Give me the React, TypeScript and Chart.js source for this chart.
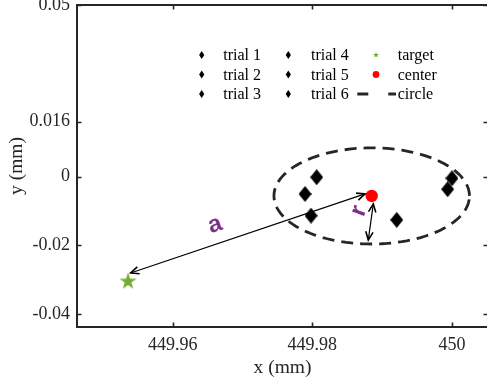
import React, { useEffect, useRef } from "react";
import { Chart, registerables } from "chart.js";
Chart.register(...registerables);

// ---- data ----
const X_TICKS = [449.96, 449.98, 450];
const Y_TICKS = [-0.04, -0.02, 0, 0.016, 0.05];
const X_RANGE = [449.946294, 450.005156];
const Y_RANGE = [-0.0438, 0.05];

const TRIAL_LABELS = ["trial 1", "trial 2", "trial 3", "trial 4", "trial 5", "trial 6"];
const TRIAL_X = [449.98062, 449.97895, 449.97981, 449.99208, 450.0, 449.99938];
const TRIAL_Y = [-0.00017, -0.00504, -0.01136, -0.01261, -0.00047, -0.00367];
const TARGET_X = [449.9536];
const TARGET_Y = [-0.03053];
const CENTER_X = [449.9885];
const CENTER_Y = [-0.00562];
const CIRCLE_RADIUS = 0.014;
const CIRCLE_STEPS = 120;
const ARROW_A_X = [449.98754, 449.95398];
const ARROW_A_Y = [-0.00504, -0.02806];
const ARROW_R_X = [449.98873, 449.98801];
const ARROW_R_Y = [-0.00795, -0.01844];
const NOTE_TEXT = ["a", "r"];
const NOTE_X = [449.96606, 449.98668];
const NOTE_Y = [-0.01407, -0.01];
const NOTE_ANGLE = [-18, -70];

const LEGEND_LABELS = [
  ["trial 1", "trial 2", "trial 3"],
  ["trial 4", "trial 5", "trial 6"],
  ["target", "center", "circle"],
];

const AXIS_COLOR = "#262626";
const PURPLE = "#7E2F8E";
const GREEN = "#77AC30";
const RED = "#FF0000";
const SERIF = '"Liberation Serif", "Times New Roman", serif';

function makeDiamond(w: number, h: number) {
  const c = document.createElement("canvas");
  c.width = Math.ceil(w);
  c.height = Math.ceil(h);
  const g = c.getContext("2d")!;
  g.fillStyle = "#000";
  g.beginPath();
  g.moveTo(c.width / 2, 0);
  g.lineTo(c.width, c.height / 2);
  g.lineTo(c.width / 2, c.height);
  g.lineTo(0, c.height / 2);
  g.closePath();
  g.fill();
  return c;
}

function starPath(g: CanvasRenderingContext2D, cx: number, cy: number, R: number) {
  const r = R * 0.382;
  g.beginPath();
  for (let i = 0; i < 10; i++) {
    const rad = i % 2 === 0 ? R : r;
    const a = -Math.PI / 2 + (i * Math.PI) / 5;
    const px = cx + rad * Math.cos(a);
    const py = cy + rad * Math.sin(a);
    if (i === 0) g.moveTo(px, py);
    else g.lineTo(px, py);
  }
  g.closePath();
}

function makeStar(R: number) {
  const c = document.createElement("canvas");
  const s = Math.ceil(R * 2 + 2);
  c.width = s;
  c.height = s;
  const g = c.getContext("2d")!;
  g.fillStyle = GREEN;
  starPath(g, s / 2, s / 2, R);
  g.fill();
  return c;
}

const overlay = {
  id: "overlay",
  afterDatasetsDraw(chart: any) {
    const { ctx, chartArea: ca, scales } = chart;
    const xs = scales.x;
    const ys = scales.y;
    const px = (v: number) => xs.getPixelForValue(v);
    const py = (v: number) => ys.getPixelForValue(v);
    ctx.save();

    // arrows
    const head = (tx: number, ty: number, fx: number, fy: number) => {
      const ang = Math.atan2(ty - fy, tx - fx);
      const L = 9;
      const a = 0.42;
      ctx.beginPath();
      ctx.moveTo(tx - L * Math.cos(ang - a), ty - L * Math.sin(ang - a));
      ctx.lineTo(tx, ty);
      ctx.lineTo(tx - L * Math.cos(ang + a), ty - L * Math.sin(ang + a));
      ctx.stroke();
    };
    const arrow = (xv: number[], yv: number[]) => {
      const x1 = px(xv[0]), y1 = py(yv[0]), x2 = px(xv[1]), y2 = py(yv[1]);
      ctx.strokeStyle = "#000";
      ctx.lineWidth = 1.2;
      ctx.beginPath();
      ctx.moveTo(x1, y1);
      ctx.lineTo(x2, y2);
      ctx.stroke();
      ctx.lineWidth = 1.6;
      head(x1, y1, x2, y2);
      head(x2, y2, x1, y1);
    };
    arrow(ARROW_A_X, ARROW_A_Y);
    arrow(ARROW_R_X, ARROW_R_Y);

    // notes
    ctx.fillStyle = PURPLE;
    ctx.font = 'bold 24px "Liberation Sans", Arial, sans-serif';
    ctx.textAlign = "center";
    ctx.textBaseline = "middle";
    NOTE_TEXT.forEach((t, i) => {
      ctx.save();
      ctx.translate(px(NOTE_X[i]), py(NOTE_Y[i]));
      ctx.rotate((NOTE_ANGLE[i] * Math.PI) / 180);
      ctx.fillText(t, 0, 0);
      ctx.restore();
    });

    // legend
    const colMarker = [201.7, 288.3, 376];
    const colText = [223.3, 311, 397.7];
    const rowY = [55, 74.5, 94];
    ctx.font = "16px " + SERIF;
    ctx.textAlign = "left";
    ctx.textBaseline = "middle";
    LEGEND_LABELS.forEach((col, ci) => {
      col.forEach((label, ri) => {
        const mx = colMarker[ci];
        const my = rowY[ri];
        if (ci < 2) {
          ctx.fillStyle = "#000";
          ctx.beginPath();
          ctx.moveTo(mx, my - 4);
          ctx.lineTo(mx + 2.6, my);
          ctx.lineTo(mx, my + 4);
          ctx.lineTo(mx - 2.6, my);
          ctx.closePath();
          ctx.fill();
        } else if (ri === 0) {
          ctx.fillStyle = GREEN;
          starPath(ctx, mx, my, 3.2);
          ctx.fill();
        } else if (ri === 1) {
          ctx.fillStyle = RED;
          ctx.beginPath();
          ctx.arc(mx, my, 3.4, 0, Math.PI * 2);
          ctx.fill();
        } else {
          ctx.strokeStyle = AXIS_COLOR;
          ctx.lineWidth = 3;
          ctx.beginPath();
          ctx.moveTo(357.3, my);
          ctx.lineTo(368.3, my);
          ctx.moveTo(388.3, my);
          ctx.lineTo(396, my);
          ctx.stroke();
        }
        ctx.fillStyle = "#000";
        ctx.fillText(label, colText[ci], my + 1);
      });
    });

    // box + inward ticks
    ctx.strokeStyle = AXIS_COLOR;
    ctx.lineWidth = 2;
    ctx.strokeRect(ca.left, ca.top, ca.right - ca.left, ca.bottom - ca.top);
    ctx.lineWidth = 1.6;
    ctx.beginPath();
    const T = 4.5;
    X_TICKS.forEach((v) => {
      const x = Math.round(px(v)) + 0.5;
      ctx.moveTo(x, ca.bottom);
      ctx.lineTo(x, ca.bottom - T);
      ctx.moveTo(x, ca.top);
      ctx.lineTo(x, ca.top + T);
    });
    Y_TICKS.forEach((v) => {
      const y = Math.round(py(v)) + 0.5;
      ctx.moveTo(ca.left, y);
      ctx.lineTo(ca.left + T, y);
      ctx.moveTo(ca.right, y);
      ctx.lineTo(ca.right - T, y);
    });
    ctx.stroke();
    ctx.restore();
  },
};

export default function App() {
  const ref = useRef<HTMLCanvasElement>(null);
  useEffect(() => {
    const canvas = ref.current!;
    const diamondImg = makeDiamond(12.5, 15.5);
    const starImg = makeStar(9);

    const circlePts: { x: number; y: number }[] = [];
    for (let i = 0; i <= CIRCLE_STEPS; i++) {
      const t = (i / CIRCLE_STEPS) * Math.PI * 2;
      circlePts.push({
        x: CENTER_X[0] + CIRCLE_RADIUS * Math.cos(t),
        y: CENTER_Y[0] + CIRCLE_RADIUS * Math.sin(t),
      });
    }

    const trialSets = TRIAL_LABELS.map((label, i) => ({
      label,
      data: [{ x: TRIAL_X[i], y: TRIAL_Y[i] }],
      pointStyle: diamondImg as any,
      pointRadius: 7,
      showLine: false,
    }));

    const chart = new Chart(canvas, {
      type: "scatter",
      data: {
        datasets: [
          {
            label: "center",
            data: CENTER_X.map((x, i) => ({ x, y: CENTER_Y[i] })),
            pointStyle: "circle",
            pointRadius: 6.2,
            backgroundColor: RED,
            borderWidth: 0,
          },
          ...trialSets,
          {
            label: "target",
            data: TARGET_X.map((x, i) => ({ x, y: TARGET_Y[i] })),
            pointStyle: starImg as any,
            pointRadius: 9,
          },
          {
            label: "circle",
            data: circlePts,
            showLine: true,
            pointRadius: 0,
            borderColor: AXIS_COLOR,
            borderWidth: 2.8,
            borderDash: [12, 7],
            fill: false,
            tension: 0,
          } as any,
        ],
      },
      options: {
        animation: false,
        responsive: false,
        maintainAspectRatio: false,
        devicePixelRatio: 1,
        layout: { autoPadding: false, padding: { left: 0, top: 5, right: 1, bottom: 0 } },
        plugins: { legend: { display: false }, tooltip: { enabled: false } },
        scales: {
          x: {
            type: "linear",
            min: X_RANGE[0],
            max: X_RANGE[1],
            grid: { display: false, drawTicks: false },
            border: { display: false },
            ticks: {
              padding: 7,
              color: AXIS_COLOR,
              font: { family: SERIF, size: 18 },
              callback: (v: any) => String(v),
            },
            afterBuildTicks: (s: any) => {
              s.ticks = X_TICKS.map((value) => ({ value }));
            },
            afterFit: (s: any) => {
              s.height = 54;
              s.paddingLeft = 0;
              s.paddingRight = 0;
            },
            title: {
              display: true,
              text: "x (mm)",
              color: AXIS_COLOR,
              font: { family: SERIF, size: 19.5 },
              padding: { top: 0, bottom: 1.5 },
            },
          },
          y: {
            type: "linear",
            min: Y_RANGE[0],
            max: Y_RANGE[1],
            grid: { display: false, drawTicks: false },
            border: { display: false },
            ticks: {
              padding: 7,
              color: AXIS_COLOR,
              font: { family: SERIF, size: 18 },
              callback: (v: any) => String(v),
            },
            afterBuildTicks: (s: any) => {
              s.ticks = Y_TICKS.map((value) => ({ value }));
            },
            afterFit: (s: any) => {
              s.width = 77;
              s.paddingTop = 0;
              s.paddingBottom = 0;
            },
            title: {
              display: true,
              text: "y (mm)",
              color: AXIS_COLOR,
              font: { family: SERIF, size: 19.5 },
              padding: { top: 5.6, bottom: 0 },
            },
          },
        },
      },
      plugins: [overlay],
    });
    return () => chart.destroy();
  }, []);

  return (
    <div
      style={{
        position: "fixed",
        left: 0,
        top: 0,
        width: 487,
        height: 381,
        overflow: "hidden",
        background: "#fff",
      }}
    >
      <canvas ref={ref} width={489} height={381} style={{ display: "block", width: 489, height: 381 }} />
    </div>
  );
}
